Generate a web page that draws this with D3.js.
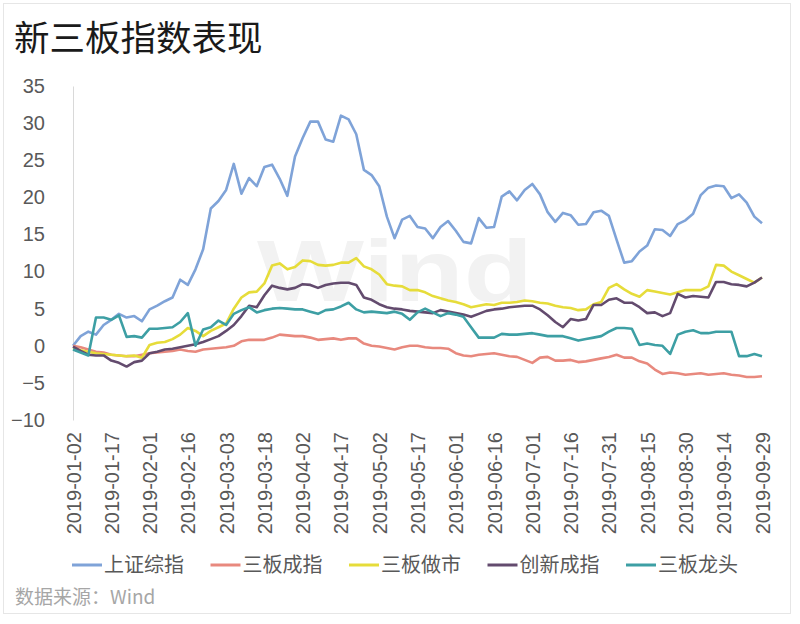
<!DOCTYPE html>
<html>
<head>
<meta charset="utf-8">
<script src="https://cdn.jsdelivr.net/npm/d3@7"></script>
<style>
  body { margin: 0; background: #fff; }
  svg { display: block; }
</style>
</head>
<body>
<script>
// sampled dates (2019), every third calendar day
var dates = [
  "01-02","01-05","01-08","01-11","01-14","01-17","01-20","01-23","01-26","01-29",
  "02-01","02-04","02-07","02-10","02-13","02-16","02-19","02-22","02-25","02-28",
  "03-03","03-06","03-09","03-12","03-15","03-18","03-21","03-24","03-27","03-30",
  "04-02","04-05","04-08","04-11","04-14","04-17","04-20","04-23","04-26","04-29",
  "05-02","05-05","05-08","05-11","05-14","05-17","05-20","05-23","05-26","05-29",
  "06-01","06-04","06-07","06-10","06-13","06-16","06-19","06-22","06-25","06-28",
  "07-01","07-04","07-07","07-10","07-13","07-16","07-19","07-22","07-25","07-28",
  "07-31","08-03","08-06","08-09","08-12","08-15","08-18","08-21","08-24","08-27",
  "08-30","09-02","09-05","09-08","09-11","09-14","09-17","09-20","09-23","09-26",
  "09-29"
];

var seriesNames = [ '上证综指', '三板成指', '三板做市', '创新成指', '三板龙头' ];
var seriesColors = [ '#7fa3d8', '#e8897e', '#e6dc3a', '#634b6e', '#3d9fa4' ];

var shComposite = [
  0, 1.3, 1.9, 1.5, 2.8, 3.5, 4.3, 3.8, 4.0, 3.3,
  4.9, 5.4, 6.0, 6.5, 8.9, 8.2, 10.3, 13.0, 18.5, 19.5,
  21.0, 24.5, 20.5, 22.6, 21.5, 24.1, 24.4, 22.5, 20.2, 25.5,
  28.0, 30.2, 30.2, 27.8, 27.5, 31.0, 30.5, 28.5, 23.7, 23.0,
  21.5, 17.4, 14.5, 17.0, 17.5, 16.0, 15.8, 14.5, 16.0, 16.8,
  15.5, 14.0, 13.8, 17.2, 15.9, 16.0, 20.1, 20.8, 19.6, 21.0,
  21.8, 20.4, 18.0, 16.7, 17.9, 17.6, 16.3, 16.4, 18.0, 18.2,
  17.5, 14.3, 11.2, 11.4, 12.7, 13.5, 15.7, 15.6, 14.8, 16.4,
  16.9, 17.8, 20.3, 21.3, 21.6, 21.5, 19.9, 20.4, 19.3, 17.4,
  16.5
];

var neeqComponent = [
  0, -0.2, -0.5, -0.8, -0.9, -1.2, -1.3, -1.4, -1.4, -1.2,
  -1.0, -0.9, -0.8, -0.7, -0.5, -0.7, -0.8, -0.5, -0.4, -0.3,
  -0.2, 0, 0.6, 0.8, 0.8, 0.8, 1.1, 1.5, 1.4, 1.3,
  1.3, 1.1, 0.8, 0.9, 1.0, 0.8, 1.0, 1.0, 0.3, 0.0,
  -0.1, -0.3, -0.5, -0.2, 0.0, 0.0, -0.2, -0.3, -0.3, -0.4,
  -1.0, -1.3, -1.4, -1.2, -1.1, -1.0, -1.2, -1.4, -1.5, -1.9,
  -2.3, -1.6, -1.5, -2.0, -2.0, -1.9, -2.2, -2.1, -1.9, -1.7,
  -1.5, -1.2, -1.6, -1.6, -2.1, -2.4, -3.2, -3.8, -3.6, -3.7,
  -3.9, -3.8, -3.7, -3.9, -3.8, -3.7, -3.9, -4.0, -4.2, -4.2,
  -4.1
];

var neeqMarketMaker = [
  -0.3, -0.6, -0.8, -1.0, -1.1, -1.2, -1.3, -1.4, -1.3, -1.6,
  0.1, 0.4, 0.5, 0.9, 1.5, 2.4, 2.0, 1.3, 2.0, 2.5,
  3.0, 5.0, 6.5, 7.2, 7.3, 8.4, 10.8, 11.1, 10.3, 10.6,
  11.5, 11.4, 10.9, 10.8, 10.9, 11.2, 11.2, 11.8, 10.7, 10.3,
  9.6, 8.3, 8.1, 8.0, 7.5, 7.5, 7.2, 6.7, 6.4, 6.1,
  5.9, 5.6, 5.2, 5.4, 5.6, 5.5, 5.8, 5.8, 5.9, 6.1,
  6.0, 5.8, 5.7, 5.4, 5.2, 5.1, 4.8, 4.9, 5.6, 5.9,
  7.8, 8.3, 7.6, 7.0, 6.6, 7.5, 7.3, 7.1, 6.9, 7.2,
  7.5, 7.5, 7.5, 8.0, 10.9, 10.8, 10.0, 9.5, 9.0, 8.5,
  9.2
];

var innovationComponent = [
  -0.1, -0.7, -1.2, -1.3, -1.3, -2.0, -2.3, -2.8, -2.2, -2.0,
  -1.0, -0.8, -0.5, -0.4, -0.2, 0.0, 0.2, 0.5, 0.9, 1.3,
  2.0, 2.8, 4.0, 5.4, 5.2, 6.8, 8.1, 7.8, 7.6, 7.8,
  8.3, 8.2, 7.8, 8.2, 8.4, 8.5, 8.5, 8.2, 6.5, 6.2,
  5.6, 5.2, 5.0, 4.9, 4.7, 4.6, 4.5, 4.4, 4.8, 4.6,
  4.4, 4.2, 3.9, 4.3, 4.7, 4.9, 5.0, 5.2, 5.3, 5.4,
  5.4, 4.9, 4.1, 3.2, 2.5, 3.6, 3.4, 3.6, 5.5, 5.5,
  6.2, 6.4, 5.8, 5.8, 5.2, 4.4, 4.5, 4.0, 4.4, 7.0,
  6.5, 6.7, 6.6, 6.5, 8.6, 8.6, 8.3, 8.2, 8.0, 8.5,
  9.2
];

var neeqLeaders = [
  -0.5, -0.9, -1.3, 3.8, 3.8, 3.5, 4.1, 1.2, 1.3, 1.1,
  2.3, 2.3, 2.4, 2.5, 3.2, 4.4, 0.0, 2.2, 2.5, 3.4,
  2.8, 4.3, 4.8, 5.2, 4.5, 4.8, 5.0, 5.1, 5.0, 4.9,
  4.9, 4.6, 4.3, 4.8, 4.9, 5.3, 5.8, 4.9, 4.5, 4.6,
  4.5, 4.4, 4.6, 4.3, 3.5, 4.5, 5.0, 4.5, 4.0, 4.4,
  4.2, 3.9, 2.5, 1.1, 1.1, 1.1, 1.6, 1.5, 1.5, 1.6,
  1.7, 1.5, 1.3, 1.3, 1.3, 1.0, 0.7, 0.9, 1.1, 1.3,
  1.9, 2.4, 2.4, 2.3, 0.1, 0.3, 0.1, 0.0, -1.1, 1.5,
  1.9, 2.1, 1.7, 1.7, 1.9, 1.9, 1.9, -1.4, -1.4, -1.1,
  -1.4
];

var yTicks = [ -10, -5, 0, 5, 10, 15, 20, 25, 30, 35 ];
var xTickLabels = [
  '2019-01-02','2019-01-17','2019-02-01','2019-02-16','2019-03-03','2019-03-18',
  '2019-04-02','2019-04-17','2019-05-02','2019-05-17','2019-06-01','2019-06-16',
  '2019-07-01','2019-07-16','2019-07-31','2019-08-15','2019-08-30','2019-09-14',
  '2019-09-29'
];

var Chart = {
  w : 800,
  h : 624,
  // plot box
  left : 73,
  right : 762,
  top : 86,
  bottom : 420,
  svg : {},
  x : {},
  y : {},
  latin : '"Liberation Sans", Arial, "Noto Sans CJK SC", sans-serif',
  cjk : '"Noto Sans CJK SC", "Liberation Sans", sans-serif'
};

Chart.parse = d3.timeParse( '%Y-%m-%d' );

Chart.drawFrame = function() {
  // card border
  this.svg.append( 'rect' )
    .attr( 'x', 3.5 ).attr( 'y', 3.5 )
    .attr( 'width', 787 ).attr( 'height', 610 )
    .attr( 'fill', '#fff' )
    .attr( 'stroke', '#e6e6e6' );

  this.svg.append( 'text' )
    .attr( 'x', 14 ).attr( 'y', 51 )
    .attr( 'font-family', this.cjk )
    .attr( 'font-size', 35.5 )
    .attr( 'fill', '#1a1a1a' )
    .text( '新三板指数表现' );

  // faint watermark
  this.svg.append( 'text' )
    .attr( 'x', 257 ).attr( 'y', 301 )
    .attr( 'font-family', this.latin )
    .attr( 'font-weight', 'bold' )
    .attr( 'font-size', 88 )
    .attr( 'textLength', 276 )
    .attr( 'lengthAdjust', 'spacingAndGlyphs' )
    .attr( 'fill', '#f2f2f2' )
    .text( 'Wind' );

  this.svg.append( 'text' )
    .attr( 'x', 15 ).attr( 'y', 604 )
    .attr( 'font-family', this.cjk )
    .attr( 'font-size', 19 )
    .attr( 'fill', '#a6a6a6' )
    .text( '数据来源：Wind' );
};

Chart.drawAxes = function() {
  var self = this;
  var yAxis = d3.axisLeft( this.y ).tickValues( yTicks ).tickSize( 0 ).tickPadding( 28 );
  var gy = this.svg.append( 'g' )
    .attr( 'transform', 'translate(' + this.left + ',0)' )
    .call( yAxis );
  gy.select( '.domain' ).attr( 'stroke', '#d9d9d9' ).attr( 'stroke-width', 1 );
  gy.selectAll( 'text' )
    .attr( 'font-family', this.latin )
    .attr( 'font-size', 20 )
    .attr( 'fill', '#595959' );

  var xAxis = d3.axisBottom( this.x )
    .tickValues( xTickLabels.map( function( s ) { return self.parse( s ); } ) )
    .tickFormat( d3.timeFormat( '%Y-%m-%d' ) )
    .tickSize( 0 );
  var gx = this.svg.append( 'g' )
    .attr( 'transform', 'translate(0,' + this.bottom + ')' )
    .call( xAxis );
  gx.select( '.domain' ).remove();
  gx.selectAll( 'text' )
    .attr( 'font-family', this.latin )
    .attr( 'font-size', 20 )
    .attr( 'fill', '#595959' )
    .attr( 'text-anchor', 'end' )
    .attr( 'transform', 'translate(0,12) rotate(-90)' )
    .attr( 'x', 0 ).attr( 'y', 0 )
    .attr( 'dy', '0.35em' );
};

Chart.drawLines = function() {
  var self = this;
  var all = [ shComposite, neeqComponent, neeqMarketMaker, innovationComponent, neeqLeaders ];
  var line = d3.line()
    .x( function( d ) { return self.x( d.date ); } )
    .y( function( d ) { return self.y( d.value ); } );

  all.forEach( function( values, s ) {
    var pts = values.map( function( v, i ) {
      return { date : self.parse( '2019-' + dates[i] ), value : v };
    });
    self.svg.append( 'path' )
      .datum( pts )
      .attr( 'fill', 'none' )
      .attr( 'stroke', seriesColors[s] )
      .attr( 'stroke-width', 2.6 )
      .attr( 'stroke-linejoin', 'round' )
      .attr( 'd', line );
  });
};

Chart.drawLegend = function() {
  var self = this;
  var item = this.svg.selectAll( 'g.legend' )
    .data( seriesNames )
    .enter()
    .append( 'g' )
    .attr( 'class', 'legend' )
    .attr( 'transform', function( d, i ) { return 'translate(' + ( 72 + i * 138.5 ) + ',565)'; } );

  item.append( 'line' )
    .attr( 'x1', 0 ).attr( 'x2', 30 )
    .attr( 'stroke', function( d, i ) { return seriesColors[i]; } )
    .attr( 'stroke-width', 3 );

  item.append( 'text' )
    .attr( 'x', 32 ).attr( 'y', 0 )
    .attr( 'dy', '0.36em' )
    .attr( 'font-family', self.cjk )
    .attr( 'font-size', 20 )
    .attr( 'fill', '#595959' )
    .text( function( d ) { return d; } );
};

Chart.initApp = function() {
  this.svg = d3.select( 'body' )
    .append( 'svg' )
    .attr( 'width', this.w )
    .attr( 'height', this.h );

  this.x = d3.scaleTime()
    .domain( [ this.parse( '2019-01-02' ), this.parse( '2019-09-29' ) ] )
    .range( [ this.left, this.right ] );
  this.y = d3.scaleLinear()
    .domain( [ -10, 35 ] )
    .range( [ this.bottom, this.top ] );

  this.drawFrame();
  this.drawAxes();
  this.drawLines();
  this.drawLegend();
};

Chart.initApp();
</script>
</body>
</html>
